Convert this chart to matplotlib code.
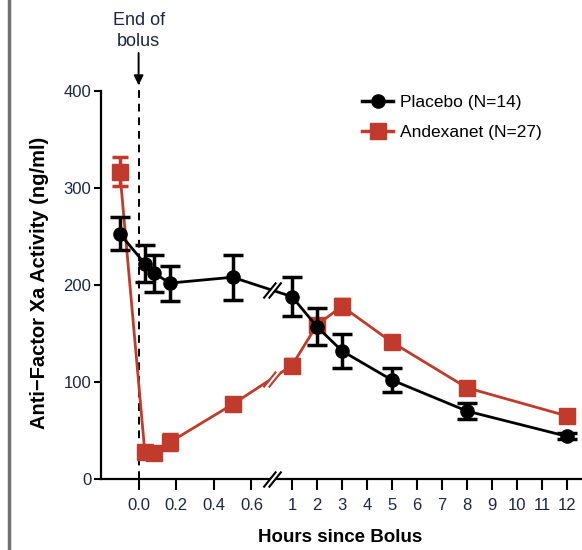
import matplotlib
matplotlib.use('Agg')
import matplotlib.pyplot as plt
from matplotlib.path import Path
from matplotlib.lines import Line2D
import numpy as np

plt.rcParams['font.family'] = ['Liberation Sans', 'DejaVu Sans']

# hours since bolus (-0.1 = pre-dose sample)
hours = [-0.1, 0.033, 0.083, 0.167, 0.5, 1, 2, 3, 5, 8, 12]
placebo = [253, 222, 212, 202, 208, 188, 157, 132, 102, 70, 44]
placebo_err = [17, 19, 19, 18, 23, 20, 19, 18, 12, 8, 3]
andexanet = [317, 28, 27, 38, 77, 117, 159, 178, 141, 94, 65]
andexanet_err = [15, 5, 4, 8, 6, 7, 6, 8, 4, 4, 3]

xticks = [0, 0.2, 0.4, 0.6, 1, 2, 3, 4, 5, 6, 7, 8, 9, 10, 11, 12]
xticklabels = ['0.0', '0.2', '0.4', '0.6'] + [str(h) for h in range(1, 13)]
yticks = [0, 100, 200, 300, 400]

# broken time axis: first 0.6 h stretched, then hourly
knots_x = [-10, 0.6, 1, 100]
knots_u = [-50, 3.0, 4.08, 4.08 + 99 * 0.665]

def fwd(x):
    return np.interp(x, knots_x, knots_u)

def inv(u):
    return np.interp(u, knots_u, knots_x)

navy = '#1d2744'
red = '#c03b2b'

fig = plt.figure(figsize=(5.82, 5.5), dpi=100)
ax = fig.add_axes([101 / 582, 1 - 479 / 550, 1 - 101 / 582, (479 - 91) / 550])
ax.set_xscale('function', functions=(fwd, inv))

ax.errorbar(hours, andexanet, yerr=andexanet_err, fmt='-s', color=red, ms=11.5,
            lw=2, elinewidth=2.5, capsize=6, capthick=2.5, zorder=3, clip_on=False)
ax.errorbar(hours, placebo, yerr=placebo_err, fmt='-o', color='black', ms=9.5,
            lw=2, elinewidth=2.5, capsize=7, capthick=2.5, zorder=4, clip_on=False)

# end of bolus marker
ax.plot([0, 0], [0, 408], ls=(0, (4, 3)), color='black', lw=1.4, clip_on=False, zorder=2)
ax.annotate('End of\nbolus', xy=(0, 406), xytext=(0, 442), ha='center', va='bottom',
            fontsize=13, color=navy, annotation_clip=False, linespacing=1.3,
            arrowprops=dict(arrowstyle='-|>', color='black', lw=1.4,
                            mutation_scale=14, shrinkA=0, shrinkB=0))

# break marks
sl = Path([(-8.5, -7.5), (3.5, 7.5), (-3.5, -7.5), (8.5, 7.5)],
          [Path.MOVETO, Path.LINETO, Path.MOVETO, Path.LINETO])
gap = Path([(-8.5, -7.5), (-3.5, -7.5), (8.5, 7.5), (3.5, 7.5), (-8.5, -7.5)],
           [Path.MOVETO, Path.LINETO, Path.LINETO, Path.LINETO, Path.CLOSEPOLY])
xb = 0.8
for ys, col in [(placebo, 'black'), (andexanet, red)]:
    u0, u1 = fwd(0.5), fwd(1)
    frac = (fwd(xb) - u0) / (u1 - u0)
    yb = ys[4] + frac * (ys[5] - ys[4])
    ax.plot([xb], [yb], marker=gap, ms=13, mfc='white', mec='none', zorder=5, clip_on=False)
    ax.plot([xb], [yb], marker=sl, ms=13, mfc='none', mec=col, mew=1.5, zorder=6, clip_on=False)
ax.plot([xb], [0], marker=gap, ms=13, mfc='white', mec='none', zorder=5, clip_on=False)
ax.plot([xb], [0], marker=sl, ms=13, mfc='none', mec='black', mew=1.5, zorder=6, clip_on=False)

ax.set_xlim(-0.2, 12.6)
ax.set_ylim(0, 400)
ax.set_xticks(xticks)
ax.set_xticklabels(xticklabels)
ax.set_yticks(yticks)
ax.tick_params(axis='x', direction='out', length=8, width=1.5, pad=6, labelsize=12, labelcolor=navy)
ax.tick_params(axis='y', direction='out', length=5, width=1.5, pad=2, labelsize=12, labelcolor=navy)
for s in ['top', 'right']:
    ax.spines[s].set_visible(False)
for s in ['left', 'bottom']:
    ax.spines[s].set_linewidth(1.6)

ax.set_xlabel('Hours since Bolus', fontsize=13.5, fontweight='bold', va='center')
ax.set_ylabel('Anti\u2212Factor Xa Activity (ng/ml)', fontsize=14.5, fontweight='bold', va='center')
ax.xaxis.set_label_coords((340 - 101) / 481, -(538 - 479) / 388)
ax.yaxis.set_label_coords(-(101 - 40) / 481, (479 - 283) / 388)

h1 = Line2D([], [], color='black', marker='o', ms=9.5, lw=2.5)
h2 = Line2D([], [], color=red, marker='s', ms=11.5, lw=2.5)
fig.legend([h1, h2], ['Placebo (N=14)', 'Andexanet (N=27)'], loc='upper left',
           bbox_to_anchor=(362 / 582, 1 - 95 / 550), frameon=False, fontsize=12.5,
           handlelength=1.8, handletextpad=0.4, labelspacing=0.85, borderpad=0,
           borderaxespad=0)

fig.add_artist(Line2D([8.5 / 582, 8.5 / 582], [0, 1], transform=fig.transFigure,
                      color='#707070', lw=2.5))

fig.savefig('out.png', dpi=100)
